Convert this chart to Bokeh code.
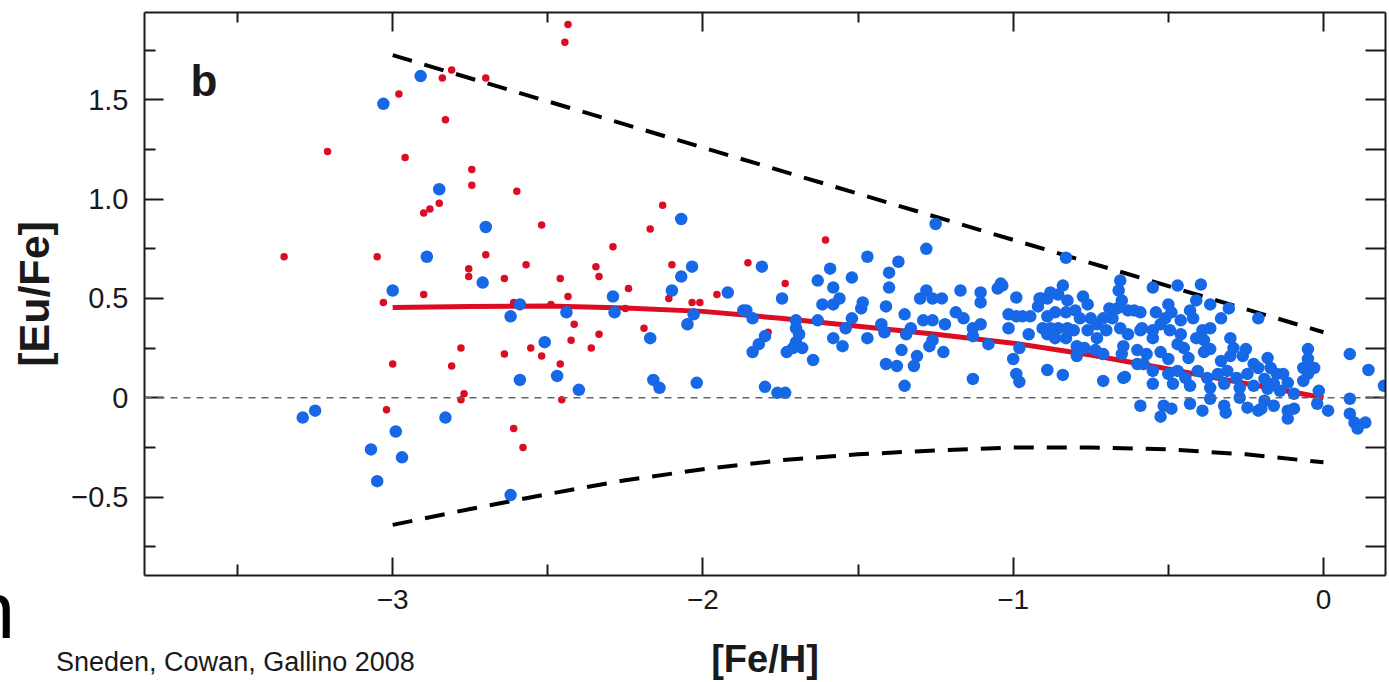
import math
from bokeh.plotting import figure
from bokeh.models import (Range1d, LinearAxis, FixedTicker, Label, Span,
                          CustomJSTickFormatter, Title)
from bokeh.embed import file_html
from bokeh.resources import INLINE

# ---------------- data ----------------
x_major = [-3, -2, -1, 0]
x_minor = [-3.5, -2.5, -1.5, -0.5]
x_labels = ["\u22123", "\u22122", "\u22121", "0"]
y_major = [-0.5, 0, 0.5, 1.0, 1.5]
y_minor = [-0.75, -0.25, 0.25, 0.75, 1.25, 1.75]
y_labels = ["\u22120.5", "0", "0.5", "1.0", "1.5"]

# halo (red) stars
red_x = [-3.35, -3.21, -3.05, -2.98, -3.03, -3.00, -3.02, -2.435, -2.445, -2.81,
         -2.84, -2.70, -2.83, -2.96, -2.745, -2.745, -2.60, -2.85, -2.90, -2.88,
         -2.13, -2.52, -2.17, -2.29, -2.70, -2.755, -2.755, -2.57, -2.64, -2.46,
         -2.345, -2.335, -2.24, -2.10, -2.11, -1.955, -2.90, -2.435, -1.855, -2.61,
         -2.49, -2.415, -2.425, -2.335, -2.36, -2.25, -2.19, -2.035, -2.01, -2.78,
         -2.81, -2.64, -2.555, -2.52, -2.46, -2.77, -2.78, -2.455, -2.61, -2.58,
         -1.605, -1.735, -1.79]
red_y = [0.71, 1.24, 0.71, 1.53, 0.48, 0.17, -0.06, 1.88, 1.79, 1.65,
         1.61, 1.61, 1.40, 1.21, 1.15, 1.07, 1.04, 0.98, 0.93, 0.95,
         0.97, 0.87, 0.85, 0.76, 0.72, 0.65, 0.61, 0.67, 0.60, 0.60,
         0.66, 0.61, 0.55, 0.67, 0.50, 0.52, 0.52, 0.51, 0.68, 0.48,
         0.47, 0.37, 0.29, 0.32, 0.25, 0.45, 0.35, 0.48, 0.48, 0.25,
         0.16, 0.22, 0.25, 0.21, 0.17, 0.02, -0.01, -0.01, -0.155, -0.25,
         0.795, 0.575, 0.33]

# disk / other (blue) stars
blue_x = [
    -3.03, -2.91, -3.00, -3.29, -3.25, -2.99, -3.07, -3.05, -2.97, -2.85,
    -2.07, -2.70, -2.89, -2.71, -2.035, -2.07, -2.10, -1.92, -2.29, -2.59,
    -2.62, -2.44, -2.285, -2.17, -2.03, -2.05, -1.87, -2.51, -2.59, -2.47,
    -2.40, -2.16, -2.14, -2.02, -2.83, -2.62,
    -1.81, -1.745, -1.84, -1.80, -1.82, -1.84, -1.80, -1.76, -1.735, -1.70,
    -1.70, -1.69, -1.70, -1.71, -1.73, -1.68, -1.645, -1.63, -1.59, -1.63,
    -1.58, -1.615, -1.56, -1.58, -1.52, -1.47, -1.54, -1.58, -1.55, -1.52,
    -1.49, -1.485, -1.47, -1.41, -1.425, -1.415, -1.40, -1.40, -1.37, -1.41,
    -1.375, -1.36, -1.35, -1.345, -1.35, -1.33, -1.31, -1.32, -1.25, -1.28,
    -1.30, -1.28, -1.26, -1.23, -1.29, -1.26, -1.22, -1.26, -1.225, -1.27,
    -1.86,
    -1.17, -1.185, -1.16, -1.13, -1.13, -1.105, -1.105, -1.105, -1.08, -1.13,
    -1.05, -1.04, -0.99, -1.015, -1.015, -0.99, -0.97, -0.945, -1.00, -0.99,
    -0.98, -0.98, -0.95, -0.92, -0.91, -0.89, -0.89, -0.88, -0.855, -0.84,
    -0.825, -0.865, -0.83, -0.905, -0.88, -0.855, -0.825, -0.89, -0.865, -0.83,
    -0.805, -0.80, -0.775, -0.76, -0.785, -0.75, -0.76, -0.73, -0.73, -0.795,
    -0.795, -0.77, -0.735, -0.71, -0.71, -0.69, -0.68, -0.70, -0.665, -0.655,
    -0.66, -0.65, -0.63, -0.655, -0.63, -0.645, -0.65, -0.61, -0.59, -0.59,
    -0.60, -0.58, -0.89, -0.84, -0.71, -0.64, -0.59, -0.83,
    -0.55, -0.47, -0.395, -0.41, -0.365, -0.305, -0.21, -0.33, -0.50, -0.54,
    -0.49, -0.51, -0.525, -0.46, -0.43, -0.42, -0.585, -0.55, -0.495, -0.46,
    -0.39, -0.365, -0.41, -0.55, -0.47, -0.45, -0.385, -0.30, -0.29, -0.25,
    -0.57, -0.525, -0.50, -0.435, -0.385, -0.365, -0.33, -0.30, -0.26, -0.225,
    -0.18, -0.21, -0.17, -0.15, -0.13, -0.115, -0.05, -0.05, -0.065, -0.03,
    -0.05, -0.015, -0.60, -0.55, -0.50, -0.47, -0.445, -0.405, -0.375, -0.34,
    -0.31, -0.28, -0.245, -0.19, -0.16, -0.55, -0.485, -0.43, -0.365, -0.32,
    -0.27, -0.225, -0.18, -0.14, -0.095, -0.515, -0.49, -0.525, -0.43, -0.39,
    -0.365, -0.32, -0.315, -0.245, -0.21, -0.19, -0.16, -0.115, -0.115, -0.095,
    -0.02, 0.015, -0.27, 0.085, 0.145, 0.195, 0.085, 0.085, 0.10, 0.135,
    0.11, -0.20, -0.065, -0.645, -1.035, -0.915]
blue_y = [
    1.48, 1.62, 0.54, -0.10, -0.065, -0.17, -0.26, -0.42, -0.30, 1.05,
    0.90, 0.86, 0.71, 0.58, 0.66, 0.61, 0.54, 0.53, 0.51, 0.47,
    0.41, 0.43, 0.43, 0.30, 0.42, 0.37, 0.44, 0.28, 0.09, 0.11,
    0.04, 0.09, 0.05, 0.075, -0.10, -0.49,
    0.66, 0.50, 0.40, 0.31, 0.27, 0.23, 0.055, 0.025, 0.025, 0.39,
    0.35, 0.32, 0.28, 0.25, 0.23, 0.25, 0.19, 0.39, 0.65, 0.59,
    0.555, 0.47, 0.50, 0.47, 0.605, 0.71, 0.35, 0.30, 0.26, 0.40,
    0.45, 0.48, 0.30, 0.46, 0.37, 0.33, 0.63, 0.555, 0.685, 0.17,
    0.16, 0.24, 0.42, 0.32, 0.06, 0.35, 0.21, 0.16, 0.875, 0.75,
    0.50, 0.54, 0.50, 0.50, 0.39, 0.39, 0.37, 0.29, 0.23, 0.26,
    0.44,
    0.54, 0.43, 0.40, 0.35, 0.31, 0.53, 0.48, 0.37, 0.27, 0.095,
    0.55, 0.575, 0.505, 0.42, 0.35, 0.41, 0.41, 0.41, 0.195, 0.12,
    0.08, 0.25, 0.32, 0.46, 0.50, 0.41, 0.50, 0.53, 0.52, 0.565,
    0.49, 0.43, 0.43, 0.35, 0.35, 0.35, 0.35, 0.32, 0.30, 0.30,
    0.34, 0.44, 0.51, 0.47, 0.40, 0.40, 0.34, 0.37, 0.30, 0.26,
    0.21, 0.25, 0.24, 0.22, 0.40, 0.45, 0.40, 0.34, 0.45, 0.59,
    0.54, 0.49, 0.44, 0.35, 0.32, 0.26, 0.22, 0.44, 0.43, 0.34,
    0.24, 0.17, 0.14, 0.115, 0.085, 0.105, -0.04, 0.705,
    0.555, 0.565, 0.57, 0.49, 0.47, 0.45, 0.40, 0.40, 0.47, 0.43,
    0.43, 0.40, 0.37, 0.39, 0.44, 0.40, 0.35, 0.34, 0.34, 0.32,
    0.34, 0.35, 0.30, 0.30, 0.27, 0.25, 0.29, 0.30, 0.25, 0.245,
    0.22, 0.23, 0.195, 0.20, 0.23, 0.245, 0.185, 0.21, 0.21, 0.17,
    0.20, 0.15, 0.15, 0.12, 0.12, 0.075, 0.245, 0.195, 0.15, 0.15,
    0.12, 0.035, 0.17, 0.135, 0.12, 0.135, 0.10, 0.135, 0.10, 0.12,
    0.135, 0.10, 0.12, 0.095, 0.07, 0.07, 0.07, 0.06, 0.05, 0.07,
    0.05, 0.06, 0.045, 0.035, 0.02, -0.04, -0.055, -0.095, -0.03, -0.065,
    -0.005, -0.04, -0.075, -0.05, -0.065, -0.015, -0.04, -0.065, -0.105, -0.055,
    -0.03, -0.065, 0.0, 0.22, 0.14, 0.06, -0.005, -0.08, -0.125, -0.125,
    -0.155, -0.055, 0.085, 0.10, 0.565, 0.50]

# mean trend (red) and envelope (dashed) curves
trend_x = [-3, -2.75, -2.5, -2.25, -2, -1.75, -1.5, -1.25, -1, -0.75, -0.5, -0.25, 0]
trend_y = [0.455, 0.46, 0.462, 0.452, 0.435, 0.40, 0.36, 0.32, 0.275, 0.215, 0.145, 0.072, 0.0]
upper_x = [-3, 0]
upper_y = [1.725, 0.33]
lower_x = [-3, -2.75, -2.5, -2.25, -2, -1.75, -1.5, -1.25, -1, -0.75, -0.5, -0.25, 0]
lower_y = [-0.64, -0.56, -0.485, -0.415, -0.36, -0.315, -0.285, -0.265, -0.25, -0.25, -0.26, -0.285, -0.325]

x_title = "[Fe/H]"
y_title = "[Eu/Fe]"
panel_tag = "b"
credit = "Sneden, Cowan, Gallino 2008"
credit_at = -3.507          # [Fe/H] value under the centre of the credit line
edge_fragment = "n"

# ---------------- styles ----------------
INK = "#1a1a1a"
BLUE = "#1668e6"
RED = "#dc0c22"
SANS = "Liberation Sans"

p = figure(width=1389, height=682,
           x_range=Range1d(-3.80, 0.20), y_range=Range1d(-0.895, 1.94),
           output_backend="svg", toolbar_location=None,
           min_border_left=144, min_border_right=4,
           min_border_top=12, min_border_bottom=107)
p.xgrid.visible = False
p.ygrid.visible = False
p.outline_line_color = None
p.background_fill_color = "white"
p.border_fill_color = "white"


def style_axis(ax, major_in, minor_in):
    ax.axis_line_color = INK
    ax.axis_line_width = 2
    ax.major_tick_line_color = INK
    ax.major_tick_line_width = 2
    ax.minor_tick_line_color = INK
    ax.minor_tick_line_width = 2
    ax.major_tick_in = major_in
    ax.major_tick_out = 0
    ax.minor_tick_in = minor_in
    ax.minor_tick_out = 0


xa = p.xaxis[0]
xa.ticker = FixedTicker(ticks=x_major, minor_ticks=x_minor)
xa.major_label_overrides = {k: v for k, v in zip(x_major, x_labels)}
xa.major_label_text_font = SANS
xa.major_label_text_font_size = "28px"
xa.major_label_text_color = INK
xa.major_label_standoff = 14
style_axis(xa, 18, 11)

ya = p.yaxis[0]
ya.ticker = FixedTicker(ticks=y_major, minor_ticks=y_minor)
ya.major_label_overrides = {k: v for k, v in zip(y_major, y_labels)}
ya.major_label_text_font = SANS
ya.major_label_text_font_size = "29px"
ya.major_label_text_color = INK
ya.major_label_standoff = 16
ya.axis_label = y_title
ya.axis_label_text_font = SANS
ya.axis_label_text_font_size = "43px"
ya.axis_label_text_font_style = "bold"
ya.axis_label_text_color = INK
ya.axis_label_standoff = 10
style_axis(ya, 19, 11)

blank = CustomJSTickFormatter(code="return ''")

top = LinearAxis(ticker=FixedTicker(ticks=x_major, minor_ticks=x_minor),
                 formatter=blank, major_label_standoff=0)
style_axis(top, 19, 10)
p.add_layout(top, "above")

right = LinearAxis(ticker=FixedTicker(ticks=y_major, minor_ticks=y_minor),
                   formatter=blank, major_label_standoff=0)
style_axis(right, 20, 20)
p.add_layout(right, "right")

# second bottom row: credit line (as a tick label) and the x title, on one line
foot = LinearAxis(ticker=FixedTicker(ticks=[credit_at], minor_ticks=[]),
                  major_label_overrides={credit_at: credit},
                  major_label_text_font=SANS, major_label_text_font_size="27px",
                  major_label_text_color=INK, major_label_standoff=35,
                  axis_label=x_title, axis_label_text_font=SANS,
                  axis_label_text_font_size="38px", axis_label_text_font_style="bold",
                  axis_label_text_color=INK, axis_label_standoff=-42,
                  axis_line_color=None, major_tick_line_color=None,
                  minor_tick_line_color=None, major_tick_in=0, major_tick_out=0,
                  minor_tick_in=0, minor_tick_out=0)

# cut-off glyph at the left page edge (zero-height title row)
edge = Title(text=edge_fragment, align="left", offset=-174, vertical_align="top",
             text_font=SANS, text_font_size="80px", text_font_style="normal",
             text_color="black", standoff=-91)

p.below = [xa, edge, foot]

p.add_layout(Span(location=0, dimension="width", line_color="#5c6b6b",
                  line_width=1.6, line_dash="7 6"))

p.line(upper_x, upper_y, line_color="black", line_width=4, line_dash="20 13")
p.line(lower_x, lower_y, line_color="black", line_width=4, line_dash="20 13")
p.line(trend_x, trend_y, line_color=RED, line_width=5)

p.scatter(red_x, red_y, size=7.5, fill_color=RED, line_color=None)
p.scatter(blue_x, blue_y, size=12.5, fill_color=BLUE, line_color=None)

p.add_layout(Label(x=-3.652, y=1.597, text=panel_tag, text_font=SANS,
                   text_font_size="44px", text_font_style="bold",
                   text_color=INK, text_align="left", text_baseline="alphabetic"))

open("out.html", "w").write(file_html(p, INLINE))
